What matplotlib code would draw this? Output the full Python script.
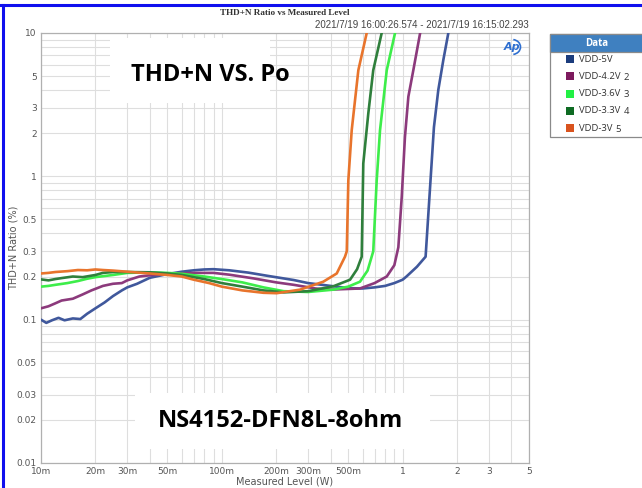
import matplotlib
matplotlib.use("Agg")
import matplotlib.pyplot as plt
from matplotlib.patches import Rectangle, Arc
from matplotlib.ticker import FixedLocator, LogLocator, NullFormatter
from matplotlib.lines import Line2D

# ---------------- data ----------------
series_names = ["VDD-5V", "VDD-4.2V", "VDD-3.6V", "VDD-3.3V", "VDD-3V"]
series_suffix = ["", "2", "3", "4", "5"]
line_colors = ["#40589c", "#8c3a7c", "#3ded4a", "#2f7f3c", "#e8742c"]
legend_colors = ["#1b3c7c", "#7d1a5e", "#22f044", "#0e6b23", "#d9531e"]

vdd5_w = [0.010, 0.0107, 0.0115, 0.0125, 0.0135, 0.015, 0.0165, 0.018, 0.020, 0.0225,
          0.025, 0.028, 0.030, 0.034, 0.040, 0.050, 0.060, 0.070, 0.080, 0.090, 0.110,
          0.140, 0.180, 0.250, 0.300, 0.400, 0.500, 0.600, 0.700, 0.800, 0.900, 1.00,
          1.05, 1.20, 1.34, 1.49, 1.575, 1.68, 1.79]
vdd5_thd = [0.100, 0.095, 0.099, 0.103, 0.099, 0.102, 0.101, 0.110, 0.120, 0.132,
            0.146, 0.160, 0.168, 0.178, 0.196, 0.208, 0.216, 0.221, 0.224, 0.225, 0.221,
            0.213, 0.202, 0.189, 0.180, 0.172, 0.166, 0.165, 0.168, 0.172, 0.180, 0.190,
            0.200, 0.234, 0.275, 2.2, 4.0, 6.5, 10.0]

vdd42_w = [0.010, 0.011, 0.012, 0.013, 0.015, 0.017, 0.019, 0.022, 0.025, 0.028,
           0.030, 0.035, 0.040, 0.050, 0.070, 0.090, 0.110, 0.150, 0.200, 0.250,
           0.330, 0.400, 0.580, 0.700, 0.817, 0.900, 0.947, 0.989, 1.03, 1.076,
           1.146, 1.25]
vdd42_thd = [0.120, 0.124, 0.130, 0.136, 0.140, 0.150, 0.160, 0.172, 0.178, 0.180,
             0.188, 0.200, 0.204, 0.208, 0.212, 0.212, 0.206, 0.194, 0.182, 0.175,
             0.165, 0.162, 0.165, 0.180, 0.200, 0.240, 0.320, 0.72, 1.88, 3.6,
             5.5, 10.0]

vdd36_w = [0.010, 0.011, 0.012, 0.014, 0.016, 0.018, 0.020, 0.025, 0.030, 0.040,
           0.050, 0.060, 0.080, 0.100, 0.130, 0.170, 0.220, 0.300, 0.414, 0.500,
           0.581, 0.640, 0.688, 0.719, 0.750, 0.817, 0.908]
vdd36_thd = [0.170, 0.172, 0.175, 0.180, 0.186, 0.193, 0.198, 0.205, 0.212, 0.214,
             0.212, 0.209, 0.200, 0.192, 0.182, 0.168, 0.158, 0.156, 0.162, 0.170,
             0.184, 0.220, 0.300, 0.94, 2.1, 5.5, 10.0]

vdd33_w = [0.010, 0.011, 0.012, 0.013, 0.015, 0.017, 0.020, 0.022, 0.025, 0.030,
           0.040, 0.050, 0.060, 0.080, 0.100, 0.130, 0.170, 0.220, 0.300, 0.414,
           0.512, 0.560, 0.594, 0.606, 0.646, 0.688, 0.766]
vdd33_thd = [0.191, 0.188, 0.192, 0.195, 0.200, 0.198, 0.205, 0.212, 0.215, 0.215,
             0.214, 0.210, 0.205, 0.192, 0.180, 0.170, 0.160, 0.155, 0.158, 0.171,
             0.190, 0.225, 0.275, 1.23, 2.75, 5.5, 10.0]

vdd3_w = [0.010, 0.011, 0.012, 0.014, 0.016, 0.018, 0.020, 0.022, 0.025, 0.030,
          0.040, 0.050, 0.060, 0.070, 0.085, 0.100, 0.130, 0.170, 0.201, 0.271,
          0.364, 0.432, 0.480, 0.491, 0.501, 0.523, 0.569, 0.633]
vdd3_thd = [0.210, 0.212, 0.215, 0.218, 0.222, 0.221, 0.224, 0.222, 0.220, 0.216,
            0.210, 0.205, 0.200, 0.190, 0.180, 0.170, 0.160, 0.154, 0.153, 0.162,
            0.184, 0.210, 0.275, 0.300, 0.94, 2.1, 5.5, 10.0]

series_w = [vdd5_w, vdd42_w, vdd36_w, vdd33_w, vdd3_w]
series_thd = [vdd5_thd, vdd42_thd, vdd36_thd, vdd33_thd, vdd3_thd]

x_ticks = [0.01, 0.02, 0.03, 0.05, 0.1, 0.2, 0.3, 0.5, 1, 2, 3, 5]
x_tick_labels = ["10m", "20m", "30m", "50m", "100m", "200m", "300m", "500m", "1", "2", "3", "5"]
y_ticks = [0.01, 0.02, 0.03, 0.05, 0.1, 0.2, 0.3, 0.5, 1, 2, 3, 5, 10]
y_tick_labels = ["0.01", "0.02", "0.03", "0.05", "0.1", "0.2", "0.3", "0.5", "1", "2", "3", "5", "10"]

W, H = 642, 488
fig = plt.figure(figsize=(W / 100, H / 100), dpi=100)
fig.patch.set_facecolor("white")

ax = fig.add_axes([41 / W, 1 - 463 / H, 488 / W, 430 / H])
ax.set_xscale("log")
ax.set_yscale("log")
ax.set_xlim(0.01, 5)
ax.set_ylim(0.01, 10)

ax.xaxis.set_major_locator(FixedLocator(x_ticks))
ax.set_xticklabels(x_tick_labels)
ax.yaxis.set_major_locator(FixedLocator(y_ticks))
ax.set_yticklabels(y_tick_labels)
ax.xaxis.set_minor_locator(LogLocator(base=10, subs=[2, 3, 4, 5, 6, 7, 8, 9]))
ax.yaxis.set_minor_locator(LogLocator(base=10, subs=[2, 3, 4, 5, 6, 7, 8, 9]))
ax.xaxis.set_minor_formatter(NullFormatter())
ax.yaxis.set_minor_formatter(NullFormatter())
ax.grid(which="both", color="#dedede", lw=0.8)
ax.set_axisbelow(True)
ax.tick_params(which="both", length=0, labelsize=6.5, colors="#555555", pad=3)
for s in ax.spines.values():
    s.set_color("#b0b0b0")
    s.set_linewidth(0.9)

for w, t, c in zip(series_w, series_thd, line_colors):
    ax.plot(w, t, color=c, lw=1.9, solid_joinstyle="round", solid_capstyle="round", zorder=3)

ax.set_xlabel("Measured Level (W)", fontsize=7, color="#555555", labelpad=0)
ax.set_ylabel("THD+N Ratio (%)", fontsize=7, color="#555555")
ax.yaxis.set_label_coords(-22 / 488, 0.5)

# ---------------- overlay (pixel coordinates) ----------------
ov = fig.add_axes([0, 0, 1, 1], zorder=5)
ov.set_xlim(0, W)
ov.set_ylim(H, 0)
ov.axis("off")
ov.patch.set_alpha(0)

# blue frame
ov.add_line(Line2D([0, W], [5, 5], color="#1010ee", lw=2.2))
ov.add_line(Line2D([3, 3], [5, H], color="#1010ee", lw=2.2))

ov.text(285, 13, "THD+N Ratio vs Measured Level", ha="center", va="center",
        fontsize=6.6, family="Liberation Serif", fontweight="bold", color="#333333")
ov.text(529, 25, "2021/7/19 16:00:26.574 - 2021/7/19 16:15:02.293", ha="right", va="center",
        fontsize=7, family="Liberation Sans", color="#444444")

# big annotation texts with white boxes
ov.add_patch(Rectangle((110, 38), 160, 65, facecolor="white", edgecolor="none"))
ov.text(210, 75, "THD+N VS. Po", ha="center", va="center", fontsize=17,
        family="Open Sans", fontweight="bold", color="black")
ov.add_patch(Rectangle((135, 393), 295, 56, facecolor="white", edgecolor="none"))
ov.text(280, 421, "NS4152-DFN8L-8ohm", ha="center", va="center", fontsize=17,
        family="Open Sans", fontweight="bold", color="black")

# AP logo
ov.text(512, 47, "Ap", ha="center", va="center", fontsize=8, fontstyle="italic",
        fontweight="bold", color="#2f6fd0")
ov.add_patch(Arc((512, 47), 17, 15, theta1=-80, theta2=80, color="#2f6fd0", lw=1.2))

# legend
ov.add_patch(Rectangle((550, 34), 96, 103, facecolor="white", edgecolor="#8a8a8a", lw=0.9))
ov.add_patch(Rectangle((550, 34), 96, 18, facecolor="#3f80c0", edgecolor="#8a8a8a", lw=0.9))
ov.text(597, 43.5, "Data", ha="center", va="center", fontsize=7, fontweight="bold",
        color="white", family="Open Sans")
for i, (name, suf, col) in enumerate(zip(series_names, series_suffix, legend_colors)):
    yc = 59 + i * 17.3
    ov.add_patch(Rectangle((566, yc - 4), 8, 8, facecolor=col, edgecolor="none"))
    t = ov.text(579, yc, name, ha="left", va="center", fontsize=6.8, color="#333333",
                family="Open Sans")
    if suf:
        ov.annotate(suf, xy=(1, 0), xycoords=t, xytext=(2.5, -0.6), textcoords="offset points",
                    ha="left", va="bottom", fontsize=6.8, color="#333333", family="Open Sans")

fig.savefig("out.png", dpi=100)
